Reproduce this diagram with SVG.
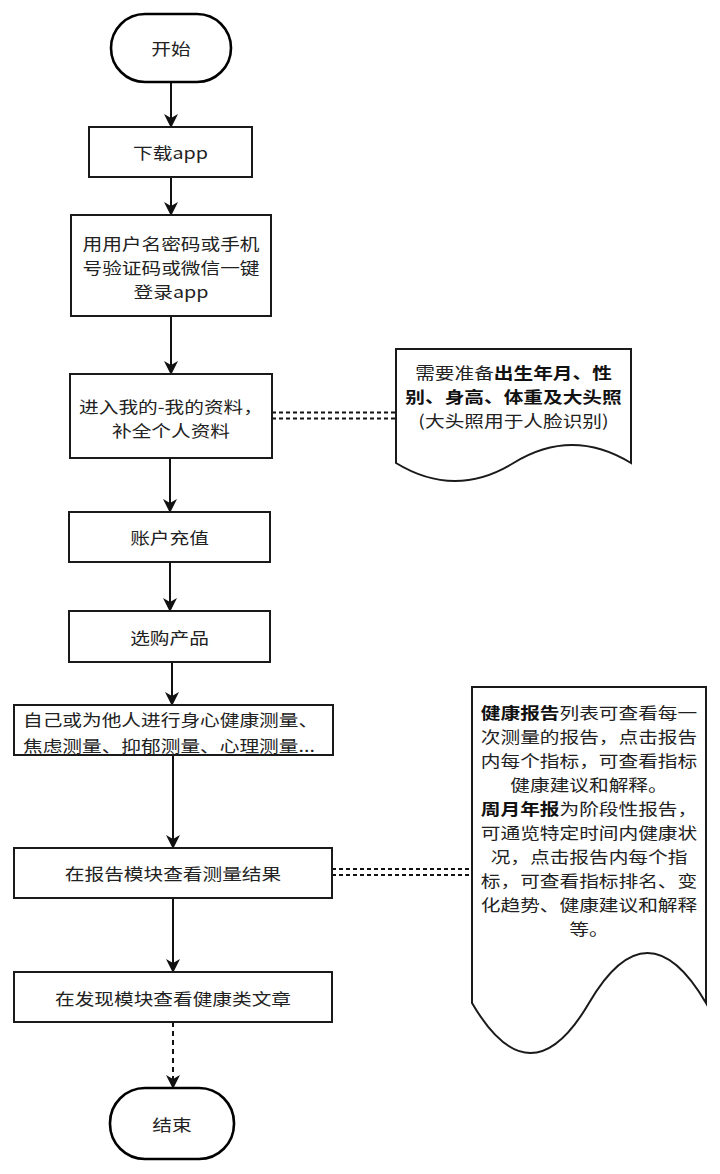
<svg xmlns="http://www.w3.org/2000/svg" width="720" height="1174" viewBox="0 0 720 1174">
<style>
.bg{fill:#ffffff}
.box{fill:#ffffff;stroke:#1a1a1a;stroke-width:2}
.term{fill:#ffffff;stroke:#000000;stroke-width:2.6}
.note{fill:#ffffff;stroke:#1a1a1a;stroke-width:2}
.t{font-family:"Noto Sans CJK SC","Noto Sans",sans-serif;font-size:16.4px;fill:#222222;text-anchor:middle;dominant-baseline:central}
.ts{text-anchor:start}
.b{font-weight:bold;fill:#111111}
.edge{fill:none;stroke:#111111;stroke-width:2}
.dash{stroke-dasharray:5 4}
.link{fill:none;stroke:#111111;stroke-width:2;stroke-dasharray:4 3}
</style>
<defs>
<marker id="arr" markerUnits="userSpaceOnUse" viewBox="0 0 14 14" refX="13" refY="7" markerWidth="14" markerHeight="14" orient="auto">
<path d="M0,0 L14,7 L0,14 L4,7 Z" fill="#111111"/>
</marker>
</defs>
<rect class="bg" x="0" y="0" width="720" height="1174"/>

<g id="connectors">
<line class="edge" x1="171" y1="82" x2="171" y2="127" marker-end="url(#arr)"/>
<line class="edge" x1="171" y1="177" x2="171" y2="215" marker-end="url(#arr)"/>
<line class="edge" x1="171" y1="316" x2="171" y2="374" marker-end="url(#arr)"/>
<line class="edge" x1="170" y1="458" x2="170" y2="512" marker-end="url(#arr)"/>
<line class="edge" x1="170" y1="562" x2="170" y2="611" marker-end="url(#arr)"/>
<line class="edge" x1="172" y1="662" x2="172" y2="705" marker-end="url(#arr)"/>
<line class="edge" x1="173" y1="755" x2="173" y2="848" marker-end="url(#arr)"/>
<line class="edge" x1="173" y1="898" x2="173" y2="972" marker-end="url(#arr)"/>
<line class="edge dash" x1="173" y1="1022" x2="173" y2="1088" marker-end="url(#arr)"/>
<line class="link" x1="272" y1="412.5" x2="396" y2="412.5"/>
<line class="link" x1="272" y1="418.5" x2="396" y2="418.5"/>
<line class="link" x1="332" y1="869" x2="472" y2="869"/>
<line class="link" x1="332" y1="875" x2="472" y2="875"/>
</g>

<g id="start">
<rect class="term" x="111" y="14" width="120" height="68" rx="34" ry="34"/>
<text class="t" transform="translate(171,48) scale(1.2,1)">开始</text>
</g>

<g id="download">
<rect class="box" x="89" y="127" width="163" height="50"/>
<text class="t" transform="translate(170.5,152) scale(1.2,1)">下载app</text>
</g>

<g id="login">
<rect class="box" x="71" y="215" width="200" height="101"/>
<text class="t" transform="translate(171,243) scale(1.2,1)">用用户名密码或手机</text>
<text class="t" transform="translate(171,267) scale(1.2,1)">号验证码或微信一键</text>
<text class="t" transform="translate(171,291) scale(1.2,1)">登录app</text>
</g>

<g id="profile">
<rect class="box" x="70" y="374" width="202" height="84"/>
<text class="t" transform="translate(171,406) scale(1.2,1)">进入我的-我的资料，</text>
<text class="t" transform="translate(171,430) scale(1.2,1)">补全个人资料</text>
</g>

<g id="note1">
<path class="note" d="M396,349 H631 V463 Q572,427 513.5,463 Q455,499 396,463 Z"/>
<text class="t" transform="translate(513.5,372) scale(1.2,1)">需要准备<tspan class="b">出生年月、性</tspan></text>
<text class="t b" transform="translate(513.5,396) scale(1.2,1)">别、身高、体重及大头照</text>
<text class="t" transform="translate(513.5,420) scale(1.2,1)">(大头照用于人脸识别)</text>
</g>

<g id="recharge">
<rect class="box" x="69" y="512" width="201" height="50"/>
<text class="t" transform="translate(169.5,537) scale(1.2,1)">账户充值</text>
</g>

<g id="buy">
<rect class="box" x="69" y="611" width="201" height="51"/>
<text class="t" transform="translate(169.5,636.5) scale(1.2,1)">选购产品</text>
</g>

<g id="measure">
<rect class="box" x="14" y="705" width="319" height="50"/>
<text class="t ts" transform="translate(23,719) scale(1.2,1)">自己或为他人进行身心健康测量、</text>
<text class="t ts" transform="translate(23,745) scale(1.2,1)">焦虑测量、抑郁测量、心理测量...</text>
</g>

<g id="report">
<rect class="box" x="14" y="848" width="318" height="50"/>
<text class="t" transform="translate(173,873) scale(1.2,1)">在报告模块查看测量结果</text>
</g>

<g id="note2">
<path class="note" d="M472,687 H706 V1003 Q647.5,903 589,1003 Q530.5,1103 472,1003 Z"/>
<text class="t" transform="translate(589,712) scale(1.2,1)"><tspan class="b">健康报告</tspan>列表可查看每一</text>
<text class="t" transform="translate(589,736) scale(1.2,1)">次测量的报告，点击报告</text>
<text class="t" transform="translate(589,760) scale(1.2,1)">内每个指标，可查看指标</text>
<text class="t" transform="translate(589,784) scale(1.2,1)">健康建议和解释。</text>
<text class="t" transform="translate(589,808) scale(1.2,1)"><tspan class="b">周月年报</tspan>为阶段性报告，</text>
<text class="t" transform="translate(589,832) scale(1.2,1)">可通览特定时间内健康状</text>
<text class="t" transform="translate(589,856) scale(1.2,1)">况，点击报告内每个指</text>
<text class="t" transform="translate(589,880) scale(1.2,1)">标，可查看指标排名、变</text>
<text class="t" transform="translate(589,904) scale(1.2,1)">化趋势、健康建议和解释</text>
<text class="t" transform="translate(589,928) scale(1.2,1)">等。</text>
</g>

<g id="discover">
<rect class="box" x="14" y="972" width="318" height="50"/>
<text class="t" transform="translate(173,998) scale(1.2,1)">在发现模块查看健康类文章</text>
</g>

<g id="end">
<rect class="term" x="110" y="1088" width="124" height="71" rx="35" ry="35"/>
<text class="t" transform="translate(172,1123.5) scale(1.2,1)">结束</text>
</g>
</svg>
